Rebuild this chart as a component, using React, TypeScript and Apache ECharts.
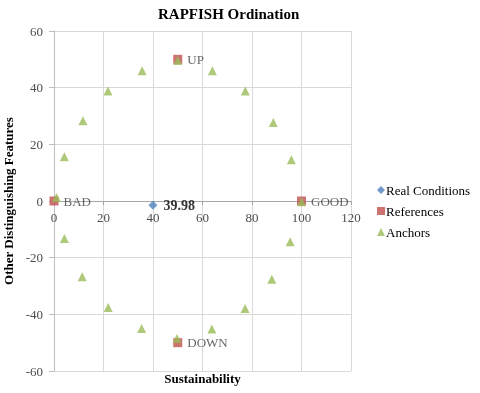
import React, { useEffect, useRef } from "react";
import * as echarts from "echarts";

const realX = [39.98];
const realY = [-1.5];

const refNames = ["BAD", "GOOD", "UP", "DOWN"];
const refX = [0, 100, 50, 50];
const refY = [0, 0, 50, -50];

const anchorX = [1, 4.2, 11.7, 21.8, 35.6, 50, 64, 77.3, 88.6, 95.9, 100, 95.4, 88, 77.2, 63.8, 49.7, 35.4, 21.9, 11.4, 4.2];
const anchorY = [1.2, 15.6, 28.3, 38.8, 46, 49.6, 46, 38.8, 27.7, 14.6, -0.3, -14.4, -27.6, -37.9, -45.2, -48.5, -45, -37.6, -26.7, -13.2];

const seriesNames = ["Real Conditions", "References", "Anchors"];
const colors = ["#4f81bd", "#c0504d", "#9bbb59"];

const FONT = "'Liberation Serif', 'Times New Roman', serif";

export default function App() {
  const ref = useRef<HTMLDivElement>(null);
  useEffect(() => {
    if (!ref.current) return;
    const chart = echarts.init(ref.current, undefined, { renderer: "svg" });
    const axisLabel = { color: "#4d4d4d", fontSize: 13, fontFamily: FONT };
    chart.setOption({
      animation: false,
      textStyle: { fontFamily: FONT },
      title: {
        text: "RAPFISH Ordination",
        left: 153,
        top: 1,
        textStyle: { fontFamily: FONT, fontWeight: "bold", fontSize: 15, color: "#000" },
      },
      legend: {
        orient: "vertical",
        left: 372,
        top: 178,
        itemWidth: 8,
        itemHeight: 8,
        itemGap: 7,
        textStyle: { fontFamily: FONT, fontSize: 13, color: "#000", lineHeight: 14, padding: [0, 0, 0, -4] },
        data: [
          { name: seriesNames[0], icon: "diamond" },
          { name: seriesNames[1], icon: "rect" },
          { name: seriesNames[2], icon: "triangle" },
        ],
      },
      grid: { left: 54, right: 129, top: 31, bottom: 22, containLabel: false, outerBoundsMode: "none" },
      xAxis: {
        type: "value",
        position: "bottom",
        offset: -170,
        min: 0,
        max: 120,
        interval: 20,
        name: "Sustainability",
        nameLocation: "middle",
        nameGap: 171,
        nameTextStyle: { fontFamily: FONT, fontWeight: "bold", fontSize: 13, color: "#000" },
        axisLine: { show: true, onZero: false, lineStyle: { color: "#a6a6a6" } },
        axisTick: { show: true, length: 4, lineStyle: { color: "#a6a6a6" } },
        axisLabel: { ...axisLabel, margin: 10 },
        splitLine: { lineStyle: { color: "#d9d9d9" } },
      },
      yAxis: {
        type: "value",
        min: -60,
        max: 60,
        interval: 20,
        name: "Other Distinguishing Features",
        nameLocation: "middle",
        nameGap: 38,
        nameTextStyle: { fontFamily: FONT, fontWeight: "bold", fontSize: 13, color: "#000" },
        axisLine: { show: true, lineStyle: { color: "#bfbfbf" } },
        axisTick: { show: true, inside: false, length: 5, lineStyle: { color: "#bfbfbf" } },
        axisLabel: { ...axisLabel, margin: 11 },
        splitLine: { lineStyle: { color: "#d9d9d9" } },
      },
      series: [
        {
          name: seriesNames[0],
          type: "scatter",
          symbol: "diamond",
          symbolSize: 9,
          itemStyle: { color: colors[0] },
          data: realX.map((x, i) => [x, realY[i]]),
          label: {
            show: true,
            position: "right",
            distance: 6,
            formatter: (p: any) => p.value[0].toFixed(2),
            fontFamily: FONT,
            fontWeight: "bold",
            fontSize: 14,
            color: "#000",
          },
          z: 3,
        },
        {
          name: seriesNames[1],
          type: "scatter",
          symbol: "rect",
          symbolSize: 9,
          itemStyle: { color: colors[1] },
          data: refX.map((x, i) => ({ name: refNames[i], value: [x, refY[i]] })),
          label: {
            show: true,
            position: "right",
            distance: 5,
            formatter: (p: any) => p.name,
            fontFamily: FONT,
            fontSize: 13,
            color: "#404040",
          },
          z: 3,
        },
        {
          name: seriesNames[2],
          type: "scatter",
          symbol: "triangle",
          symbolSize: 9,
          itemStyle: { color: colors[2] },
          data: anchorX.map((x, i) => [x, anchorY[i]]),
          z: 4,
        },
      ],
    });
    const resize = () => chart.resize();
    window.addEventListener("resize", resize);
    return () => {
      window.removeEventListener("resize", resize);
      chart.dispose();
    };
  }, []);
  return <div ref={ref} style={{ width: 480, height: 393, position: "fixed", left: 0, top: 0 }} />;
}
